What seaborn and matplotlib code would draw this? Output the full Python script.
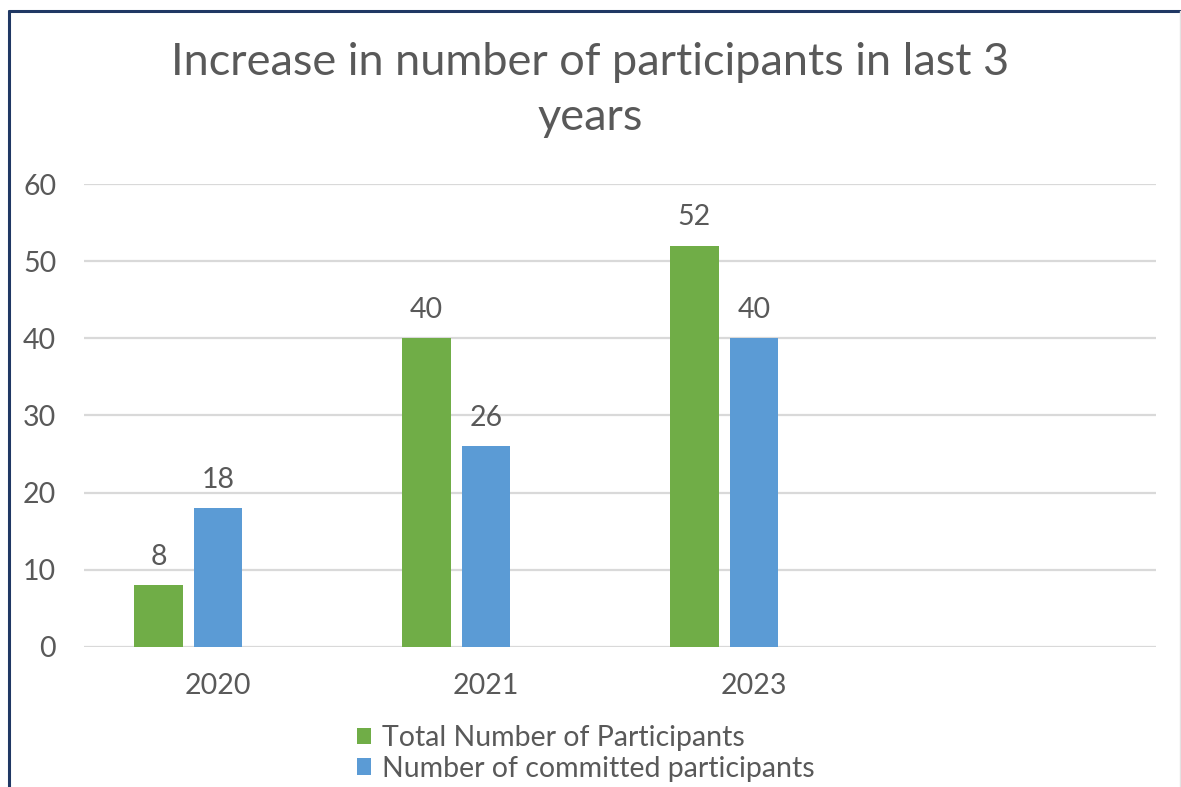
import matplotlib
matplotlib.use("Agg")
import matplotlib.pyplot as plt
from matplotlib.lines import Line2D
from matplotlib.patches import Patch
import pandas as pd
import seaborn as sns

# Chart data
years = ["2020", "2021", "2023"]
total_participants = [8, 40, 52]
committed_participants = [18, 26, 40]
series_names = ["Total Number of Participants", "Number of committed participants"]
title = "Increase in number of participants in last 3\nyears"

GREEN = "#70AD47"
BLUE = "#5B9BD5"
TEXT = "#595959"
GRID = "#D9D9D9"
FS = 20.5

df = pd.DataFrame({
    "Year": years * 2,
    "Count": total_participants + committed_participants,
    "Series": [series_names[0]] * len(years) + [series_names[1]] * len(years),
})

sns.set_theme(style="white")
plt.rcParams["font.family"] = ["Lato", "DejaVu Sans"]

fig = plt.figure(figsize=(11.81, 7.87), dpi=100)
ax = fig.add_axes([0.0711, 0.1779, 0.9077, 0.5883])

# an empty fourth category and an empty third series keep the spacing of the column chart
sns.barplot(
    data=df, x="Year", y="Count", hue="Series",
    order=years + [""], hue_order=series_names + ["_spare"],
    palette=[GREEN, BLUE, "white"], saturation=1, width=0.667, gap=0.19,
    linewidth=0, legend=False, ax=ax,
)

for cont in ax.containers:
    ax.bar_label(cont, fmt="%g", padding=11, fontsize=FS, color=TEXT)

ax.set_ylim(0, 60)
ax.set_xlim(-0.5, 3.5)
ax.set_yticks(range(0, 61, 10))
ax.yaxis.grid(True, color=GRID, linewidth=1.6)
ax.set_axisbelow(True)
for s in ax.spines.values():
    s.set_visible(False)
ax.tick_params(axis="y", length=0, pad=20, labelsize=FS, labelcolor=TEXT)
ax.tick_params(axis="x", length=0, pad=19, labelsize=FS, labelcolor=TEXT)
ax.set_xlabel("")
ax.set_ylabel("")

fig.text(0.5, 0.8856, title, ha="center", va="center", fontsize=32.5,
         color=TEXT, linespacing=1.4)

handles = [Patch(facecolor=GREEN, edgecolor="none"), Patch(facecolor=BLUE, edgecolor="none")]
fig.legend(handles, series_names, loc="center left", bbox_to_anchor=(0.302, 0.0426),
           frameon=False, fontsize=FS, labelcolor=TEXT, borderpad=0, borderaxespad=0,
           handlelength=0.5, handleheight=0.5, handletextpad=0.4, labelspacing=0.15)

# chart frame
fig.add_artist(Line2D([0.0076, 1.0], [0.986, 0.986], color="#203864", linewidth=2.2))
fig.add_artist(Line2D([0.0076, 0.0076], [0.0, 0.986], color="#203864", linewidth=2.2))
fig.add_artist(Line2D([0.9992, 0.9992], [0.0, 0.986], color="#E3E3E3", linewidth=1.0))

fig.savefig("out.png", dpi=100, facecolor="white")
